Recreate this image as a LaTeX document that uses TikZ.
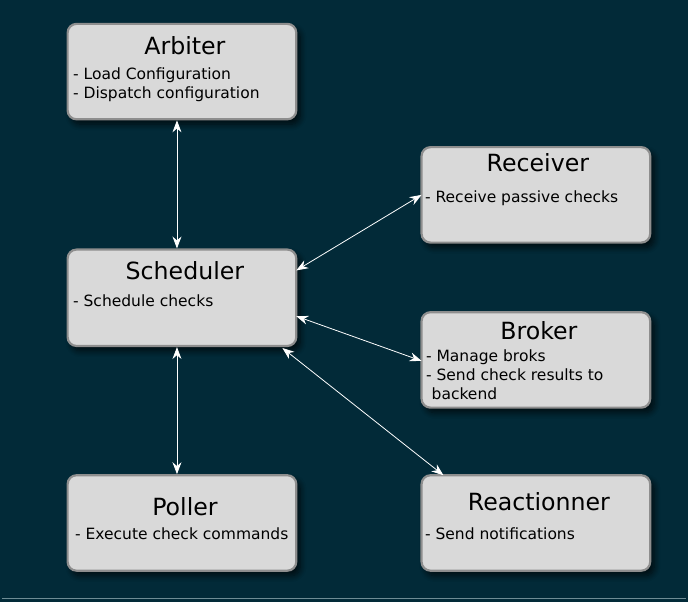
\documentclass[tikz,border=0pt]{standalone}
\usepackage{fontspec}
\setmainfont{DejaVu Sans}
\usetikzlibrary{shadows.blur,arrows.meta}
\definecolor{bgc}{HTML}{022A38}
\definecolor{boxfill}{HTML}{D9D9D9}
\definecolor{boxline}{HTML}{8E8E8E}
\begin{document}
\begin{tikzpicture}[x=1pt,y=-1pt,
  box/.style={draw=boxline, line width=2.2pt, fill=boxfill, rounded corners=9pt,
    blur shadow={shadow xshift=4pt, shadow yshift=-5pt, shadow blur steps=8, shadow blur radius=6pt, shadow opacity=70}},
  ttl/.style={font=\fontsize{23.8}{28}\selectfont, text=black},
  txt/.style={font=\fontsize{15.6}{19.5}\selectfont, text=black, align=left, anchor=west},
  conn/.style={white, line width=0.8pt, {Stealth[length=12pt,width=9pt]}-{Stealth[length=12pt,width=9pt]}}]
\fill[bgc] (-2,-2) rectangle (690,603);
\draw[color={rgb,255:red,110;green,140;blue,148}, line width=1.5pt] (0,600) -- (688,600);
\useasboundingbox (0,0) rectangle (688,601);
% boxes
\node[box, minimum width=230pt, minimum height=96pt] (arb) at (181,70) {};
\node[box, minimum width=230pt, minimum height=96pt] (rec) at (537,194) {};
\node[box, minimum width=230pt, minimum height=97pt] (sch) at (181,297.5) {};
\node[box, minimum width=230pt, minimum height=96pt] (bro) at (537,360) {};
\node[box, minimum width=230pt, minimum height=96pt] (pol) at (181,524) {};
\node[box, minimum width=230pt, minimum height=96pt] (rea) at (537,524) {};
% texts
\node[ttl] (arbt) at (184,44) {Arbiter};
\node[txt] (arbx) at (68,83) {- Load Configuration\\- Dispatch configuration};
\node[ttl] (rect) at (539,162) {Receiver};
\node[txt] (recx) at (422,197) {- Receive passive checks};
\node[ttl] (scht) at (184,270) {Scheduler};
\node[txt] (schx) at (68,300) {- Schedule checks};
\node[ttl] (brot) at (540,331) {Broker};
\node[txt] (brox) at (423,375) {- Manage broks\\- Send check results to\\\hphantom{-}backend};
\node[ttl] (polt) at (184,508) {Poller};
\node[txt] (polx) at (70,535) {- Execute check commands};
\node[ttl] (reat) at (540,503) {Reactionner};
\node[txt] (reax) at (422,535) {- Send notifications};
% connectors
\draw[conn] (arb.south -| 176,0) -- (sch.north -| 176,0);
\draw[conn] (sch.south -| 176,0) -- (pol.north -| 176,0);
\coordinate (s1) at (296,270);
\coordinate (r1) at (422,194);
\draw[conn] (s1) -- (r1);
\coordinate (s2) at (296,316);
\coordinate (b2) at (422,361);
\draw[conn] (s2) -- (b2);
\coordinate (s3) at (282,348);
\coordinate (e3) at (444,476);
\draw[conn] (s3) -- (e3);
\end{tikzpicture}
\end{document}
